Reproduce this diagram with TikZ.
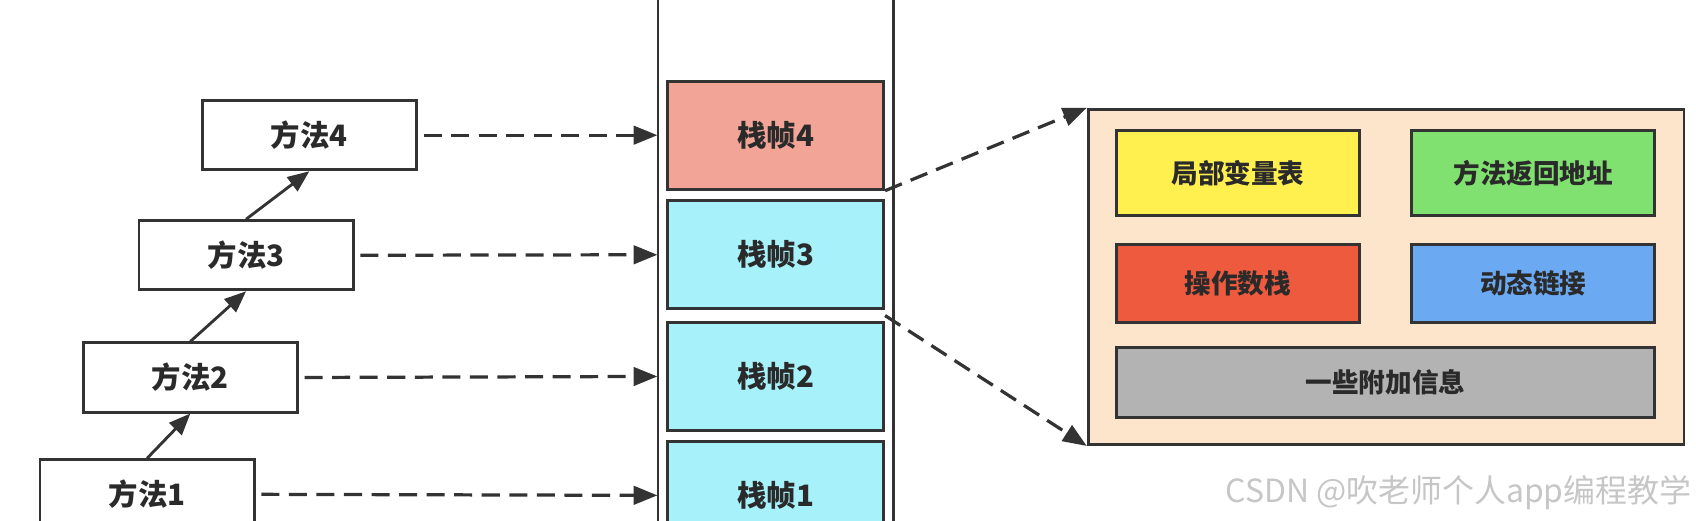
\documentclass[tikz,border=0pt]{standalone}
\usepackage{fontspec}
\setmainfont{Noto Sans CJK SC}
\usepackage{xcolor}
\usetikzlibrary{arrows.meta, positioning, calc}
\definecolor{linegray}{HTML}{333333}
\definecolor{textgray}{HTML}{2A2A2A}
\definecolor{framered}{HTML}{F2A497}
\definecolor{framecyan}{HTML}{A6F1FA}
\definecolor{detailbg}{HTML}{FCE5CB}
\definecolor{lvtyellow}{HTML}{FFF04F}
\definecolor{retgreen}{HTML}{80E070}
\definecolor{opsred}{HTML}{EE5A3E}
\definecolor{dynblue}{HTML}{6BAAF3}
\definecolor{extragray}{HTML}{B3B3B3}

\begin{document}
\begin{tikzpicture}[
  x=0.02cm, y=-0.02cm,
  font=\fontsize{15.5}{18}\selectfont\bfseries,
  meth/.style={rectangle, draw=linegray, line width=1.5pt, fill=white, text=textgray,
               minimum width=3.96cm, minimum height=1.28cm, inner sep=0pt},
  frm/.style={rectangle, draw=linegray, line width=1.5pt, text=textgray,
              minimum width=4cm, minimum height=2cm, inner sep=0pt},
  part/.style={rectangle, draw=linegray, line width=1.5pt, text=textgray,
               minimum width=4.5cm, minimum height=1.5cm, inner sep=0pt,
               font=\fontsize{14}{16}\selectfont\bfseries},
  wall/.style={draw=linegray, line width=1.2pt},
  call/.style={-{Triangle[length=4mm, width=3.2mm]}, line width=1.5pt, draw=linegray},
  map/.style={-{Triangle[length=4.4mm, width=3.4mm]}, line width=1.7pt, draw=linegray,
              dash pattern=on 9.5pt off 5pt}
]
\useasboundingbox (0,0) rectangle (1568,481);
%% call chain (left)
\node[meth] (m4) at (286,  125) {方法4};
\node[meth] (m3) at (227.5,236) {方法3};
\node[meth] (m2) at (176,  349) {方法2};
\node[meth] (m1) at (136,  457) {方法1};
%% stack walls
\coordinate (stk_lt) at (608,-10);
\coordinate (stk_lb) at (608,500);
\coordinate (stk_rt) at (826,-10);
\coordinate (stk_rb) at (826,500);
\draw[wall] (stk_lt) -- (stk_lb);
\draw[wall] (stk_rt) -- (stk_rb);
%% stack frames
\node[frm, fill=framered]  (f4) at (717,125)   {栈帧4};
\node[frm, fill=framecyan] (f3) at (717,235.5) {栈帧3};
\node[frm, fill=framecyan] (f2) at (717,348)   {栈帧2};
\node[frm, fill=framecyan] (f1) at (717,458)   {栈帧1};
%% frame detail (right)
\node[rectangle, draw=linegray, line width=1.5pt, fill=detailbg,
      minimum width=11.02cm, minimum height=6.2cm] (detail) at (1281.5,256) {};
\node[part, fill=lvtyellow, minimum height=1.56cm] (lvt) at (1144.5,160) {局部变量表};
\node[part, fill=retgreen,  minimum height=1.56cm] (ret) at (1417.5,160) {方法返回地址};
\node[part, fill=opsred,    minimum height=1.44cm] (ops) at (1144.5,262) {操作数栈};
\node[part, fill=dynblue,   minimum height=1.44cm] (dyn) at (1417.5,262) {动态链接};
\node[part, fill=extragray, minimum width=9.96cm, minimum height=1.3cm]
    (extra) at (1281,353.5) {一些附加信息};
%% watermark
\node[anchor=east, text=gray!45, font=\fontsize{16.8}{18}\selectfont, inner sep=0pt]
    (mark) at (1564,455) {CSDN @吹老师个人app编程教学};
%% arrows
\draw[call] (m1.north) -- (m2.south);
\draw[call] (m2.north) -- (m3.south);
\draw[call] (m3.north) -- (m4.south);
\foreach \i in {1,...,4}
  \draw[map, shorten <=3pt, shorten >=4.5pt] (m\i.east) -- (f\i.west);
\coordinate (f3_gap) at ($(f3.south east)!0.5!(f2.north east)$);
\draw[map] (f4.south east) -- (detail.north west);
\draw[map] (f3_gap) -- (detail.south west);
\end{tikzpicture}
\end{document}
